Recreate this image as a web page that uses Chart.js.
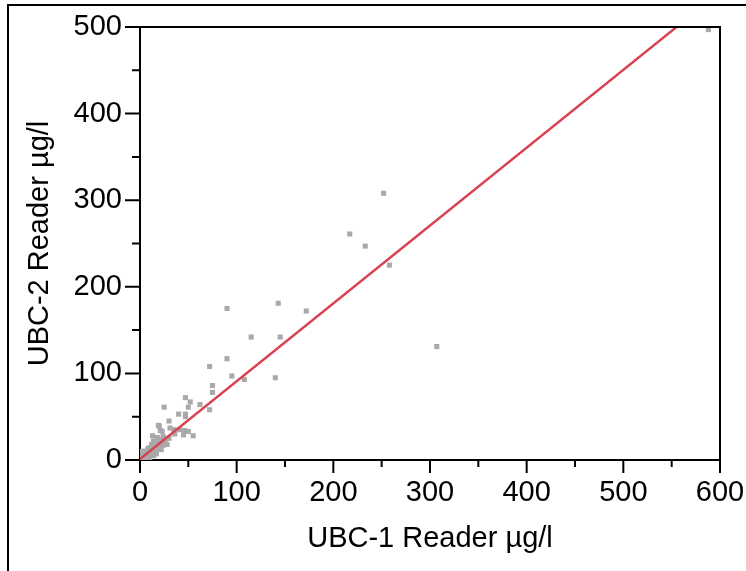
<!DOCTYPE html>
<html>
<head>
<meta charset="utf-8">
<script src="https://cdn.jsdelivr.net/npm/chart.js@4.4.0/dist/chart.umd.min.js"></script>
<style>
    html, body { margin: 0; padding: 0; background: #fff; }
    #wrap { position: relative; width: 746px; height: 571px; }
</style>
</head>
<body>
<div id="wrap"><canvas id="scatterChart"></canvas></div>
<script>
/* ============================================================
   DATI
============================================================ */
const ubc1 = [
    588, 252, 217, 233, 258, 307, 90, 143, 172, 115, 145, 90, 72, 95, 108, 140,
    75, 75, 25, 47, 52, 50, 62, 72, 40, 47, 47, 30, 20, 35, 41, 46, 23, 13, 45,
    55, 31, 21, 50, 36, 19,
    14, 9, 5, 18, 22, 26, 28, 19, 16, 22, 10, 3, 2, 7, 14, 12, 16, 20, 24, 27,
    6, 1, 4, 11, 15, 18, 25, 8, 13, 20, 10, 17, 30, 24, 12, 3, 6, 2, 1
];
const ubc2 = [
    497, 308, 261, 247, 225, 131, 175, 181, 172, 142, 142, 117, 108, 97, 93, 95,
    86, 78, 61, 72, 67, 61, 64, 58, 53, 53, 50, 45, 39, 35, 35, 34, 33, 28, 29,
    28, 37, 34, 33, 30, 40,
    22, 14, 10, 26, 24, 22, 18, 16, 10, 12, 5, 3, 5, 7, 5, 18, 20, 20, 27, 25,
    3, 1, 8, 11, 14, 13, 20, 12, 8, 15, 2, 7, 25, 17, 14, 0, 0, 10, 7
];

// retta di regressione (estremi)
const fitX = [0, 555];
const fitY = [1, 500];

const xTicks = [0, 100, 200, 300, 400, 500, 600];
const yTicks = [0, 100, 200, 300, 400, 500];
const minorStep = 50;

/* ============================================================
   PLUGIN — cornice, bordo area e tacche
============================================================ */
const framePlugin = {
    id: "frame",
    afterDraw(chart) {
        const ctx = chart.ctx;
        const a = chart.chartArea;
        const xs = chart.scales.x;
        const ys = chart.scales.y;

        ctx.save();
        ctx.strokeStyle = "#000";
        ctx.lineWidth = 2;

        // cornice esterna
        ctx.beginPath();
        ctx.moveTo(8, 571);
        ctx.lineTo(8, 5);
        ctx.lineTo(746, 5);
        ctx.stroke();

        // bordo superiore e destro dell'area
        ctx.beginPath();
        ctx.moveTo(a.left, a.top);
        ctx.lineTo(a.right, a.top);
        ctx.lineTo(a.right, a.bottom);
        ctx.stroke();

        // tacche asse x
        ctx.beginPath();
        for (let v = xs.min; v <= xs.max; v += minorStep) {
            const px = xs.getPixelForValue(v);
            const len = v % 100 === 0 ? 13 : 7;
            ctx.moveTo(px, a.bottom);
            ctx.lineTo(px, a.bottom + len);
        }
        // tacche asse y
        for (let v = ys.min; v <= ys.max; v += minorStep) {
            const py = ys.getPixelForValue(v);
            const len = v % 100 === 0 ? 15 : 8;
            ctx.moveTo(a.left, py);
            ctx.lineTo(a.left - len, py);
        }
        ctx.stroke();
        ctx.restore();
    }
};

/* ============================================================
   GRAFICO — Chart.js
============================================================ */
function initScatterChart() {
    const el = document.getElementById("scatterChart");
    const font = { family: "'Liberation Sans', Arial, sans-serif", size: 29 };

    new Chart(el, {
        type: "scatter",
        data: {
            datasets: [{
                label: "Regressione",
                data: fitX.map((x, i) => ({ x: x, y: fitY[i] })),
                showLine: true,
                borderColor: "#d8424f",
                borderWidth: 2.4,
                pointRadius: 0,
                order: 0
            }, {
                label: "Campioni",
                data: ubc1.map((x, i) => ({ x: x, y: ubc2[i] })),
                pointStyle: "rect",
                pointRadius: 3.6,
                borderWidth: 0,
                backgroundColor: "#a9a9a9",
                order: 1
            }]
        },
        options: {
            responsive: true,
            maintainAspectRatio: false,
            animation: false,
            layout: { padding: { top: 27, right: 26, bottom: 0, left: 0 } },
            plugins: { legend: { display: false }, tooltip: { enabled: false } },
            scales: {
                x: {
                    type: "linear",
                    min: 0, max: 600,
                    afterBuildTicks: s => { s.ticks = xTicks.map(v => ({ value: v })); },
                    afterFit: s => {
                        s.height = 111;
                        s.paddingLeft = 0;
                        s.paddingRight = 0;
                    },
                    grid: { display: false, drawTicks: false },
                    border: { display: true, color: "#000", width: 2 },
                    ticks: { color: "#000", font: font, padding: 16, maxRotation: 0 },
                    title: {
                        display: true,
                        text: "UBC-1 Reader µg/l",
                        color: "#000",
                        font: font,
                        padding: { top: 0, bottom: 15 }
                    }
                },
                y: {
                    type: "linear",
                    min: 0, max: 500,
                    afterBuildTicks: s => { s.ticks = yTicks.map(v => ({ value: v })); },
                    afterFit: s => {
                        s.width = 140;
                        s.paddingTop = 0;
                        s.paddingBottom = 0;
                    },
                    grid: { display: false, drawTicks: false },
                    border: { display: true, color: "#000", width: 2 },
                    ticks: { color: "#000", font: font, padding: 18 },
                    title: {
                        display: true,
                        text: "UBC-2 Reader µg/l",
                        color: "#000",
                        font: font,
                        padding: { top: 23, bottom: 0 }
                    }
                }
            }
        },
        plugins: [framePlugin]
    });
}
initScatterChart();
</script>
</body>
</html>
